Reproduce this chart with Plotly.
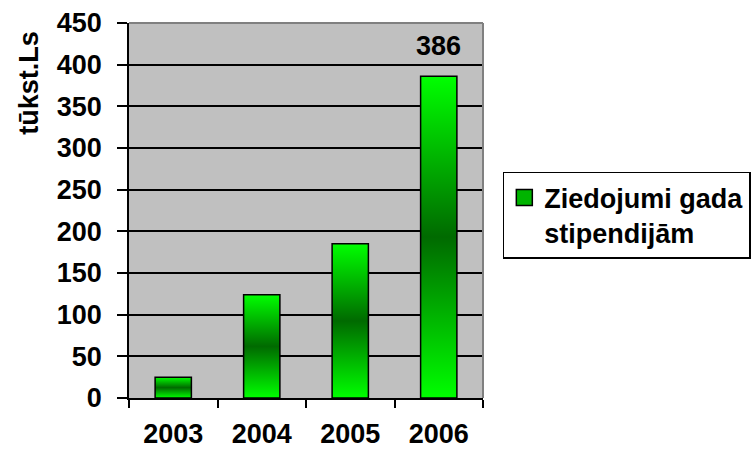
import plotly.graph_objects as go

years = ["2003", "2004", "2005", "2006"]
values = [25, 124, 185, 386]
series_name = "Ziedojumi gada<br>stipendijām"
y_title = "tūkst.Ls"
y_ticks = [0, 50, 100, 150, 200, 250, 300, 350, 400, 450]

FONT = "Liberation Sans, Arial, sans-serif"
FS = 27
BAR_W = 0.41
LIGHT = "#00ff00"
DARK = "#006a00"

fig = go.Figure()

# legend-only entry
fig.add_trace(go.Scatter(x=[None], y=[None], name=series_name, showlegend=True, mode="markers",
                         marker=dict(symbol="square", size=16, color="#00b400",
                                     line=dict(color="black", width=1.5))))

for i, v in enumerate(values):
    xs = [i - BAR_W / 2, i + BAR_W / 2, i + BAR_W / 2, i - BAR_W / 2, i - BAR_W / 2]
    ys = [0, 0, v, v, 0]
    fig.add_trace(go.Scatter(
        x=xs, y=ys, mode="lines", fill="toself",
        fillgradient=dict(type="vertical",
                          colorscale=[[0, LIGHT], [0.5, DARK], [1, LIGHT]]),
        line=dict(color="black", width=1.5),
        showlegend=False, hoverinfo="skip"))

fig.add_annotation(x=3, y=values[3], text=str(values[3]), showarrow=False,
                   yanchor="bottom", yshift=13,
                   font=dict(family=FONT, size=FS, color="black", weight="bold"))

fig.add_annotation(xref="paper", yref="paper", x=-0.283, y=0.84, text=y_title,
                   textangle=-90, showarrow=False, xanchor="center", yanchor="middle",
                   font=dict(family=FONT, size=FS, color="black", weight="bold"))

# grey top/right border
fig.add_shape(type="line", xref="paper", yref="paper", x0=0, x1=1, y0=1, y1=1,
              line=dict(color="#808080", width=2), layer="above")
fig.add_shape(type="line", xref="paper", yref="paper", x0=1, x1=1, y0=0, y1=1,
              line=dict(color="#808080", width=2), layer="above")

fig.update_layout(
    width=752, height=450,
    margin=dict(l=129, r=269, t=23, b=52, autoexpand=False),
    paper_bgcolor="white", plot_bgcolor="#c0c0c0",
    font=dict(family=FONT, size=FS, color="black", weight="bold"),
    showlegend=True,
    legend=dict(x=1.056, y=0.6027, xanchor="left", yanchor="top",
                bordercolor="black", borderwidth=1.5, bgcolor="white",
                valign="top", font=dict(family=FONT, size=FS, color="black", weight="bold"),
                itemwidth=30, entrywidth=280, entrywidthmode="pixels"),
    xaxis=dict(range=[-0.5, 3.5], tickmode="array", tickvals=list(range(len(years))),
               ticktext=years, ticks="", showgrid=False, zeroline=False,
               showline=True, linecolor="black", linewidth=1.5,
               ticklabelstandoff=11,
               minor=dict(tickmode="array", tickvals=[-0.5, 0.5, 1.5, 2.5, 3.5],
                          ticks="outside", ticklen=8, tickwidth=1.5, tickcolor="black",
                          showgrid=False),
               fixedrange=True),
    yaxis=dict(range=[0, 450], tickmode="array", tickvals=y_ticks,
               ticks="outside", ticklen=10, tickwidth=1.5, tickcolor="black",
               showgrid=True, gridcolor="black", gridwidth=1.5,
               zeroline=False, showline=True, linecolor="black", linewidth=1.5,
               ticklabelstandoff=10, fixedrange=True),
)

fig.write_html("out.html", config={"displayModeBar": False},
               post_script="document.body.style.margin='0';")
